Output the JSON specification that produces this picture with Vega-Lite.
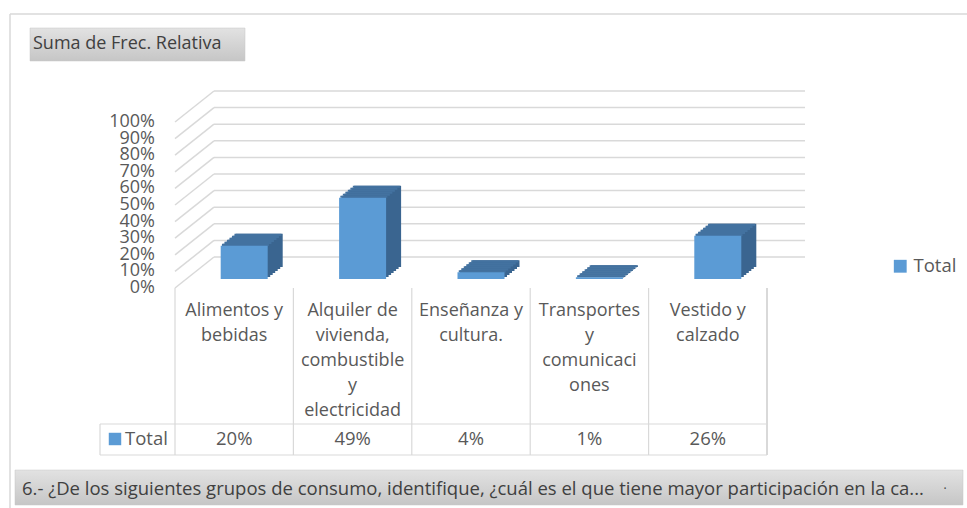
{
  "$schema": "https://vega.github.io/schema/vega-lite/v6.json",
  "width": 592,
  "height": 166,
  "autosize": {"type": "none"},
  "padding": {"left": 175, "top": 122, "right": 200, "bottom": 220},
  "background": "white",
  "config": {
    "view": {"stroke": null},
    "font": "Open Sans",
    "axis": {"disable": true}
  },
  "datasets": {
    "consumo": [
      {"grupo": "Alimentos y bebidas", "etiqueta": "Alimentos y\nbebidas", "frec": 0.20},
      {"grupo": "Alquiler de vivienda, combustible y electricidad", "etiqueta": "Alquiler de\nvivienda,\ncombustible\ny\nelectricidad", "frec": 0.49},
      {"grupo": "Enseñanza y cultura.", "etiqueta": "Enseñanza y\ncultura.", "frec": 0.04},
      {"grupo": "Transportes y comunicaciones", "etiqueta": "Transportes\ny\ncomunicaci\nones", "frec": 0.01},
      {"grupo": "Vestido y calzado", "etiqueta": "Vestido y\ncalzado", "frec": 0.26}
    ],
    "niveles": [
      {"nivel": 0}, {"nivel": 0.1}, {"nivel": 0.2}, {"nivel": 0.3}, {"nivel": 0.4}, {"nivel": 0.5},
      {"nivel": 0.6}, {"nivel": 0.7}, {"nivel": 0.8}, {"nivel": 0.9}, {"nivel": 1}
    ]
  },
  "layer": [
    {
      "data": {"values": [{}]},
      "layer": [
        {
          "mark": {"type": "rule", "color": "#d9d9d9", "strokeWidth": 1.5},
          "encoding": {
            "x": {"datum": -1.3936, "type": "quantitative", "scale": {"domain": [0, 5], "nice": false, "zero": false}},
            "x2": {"datum": 6.6909},
            "y": {"datum": 1.6506, "type": "quantitative"}
          }
        },
        {
          "mark": {"type": "rule", "color": "#d9d9d9", "strokeWidth": 1.5},
          "encoding": {
            "x": {"datum": -1.3936, "type": "quantitative"},
            "y": {"datum": 1.6506, "type": "quantitative"},
            "y2": {"datum": -1.3253}
          }
        },
        {
          "data": {"name": "niveles"},
          "mark": {"type": "rule", "color": "#d9d9d9", "strokeWidth": 1.5, "xOffset": 39, "x2Offset": 38, "yOffset": -31},
          "encoding": {
            "x": {"datum": 0, "type": "quantitative"},
            "x2": {"datum": 5},
            "y": {"field": "nivel", "type": "quantitative"}
          }
        },
        {
          "data": {"name": "niveles"},
          "mark": {"type": "rule", "color": "#d9d9d9", "strokeWidth": 1.5, "x2Offset": 39, "y2Offset": -31},
          "encoding": {
            "x": {"datum": 0, "type": "quantitative"},
            "x2": {"datum": 0},
            "y": {"field": "nivel", "type": "quantitative"},
            "y2": {"field": "nivel"}
          }
        },
        {
          "data": {"name": "niveles"},
          "mark": {"type": "text", "align": "right", "baseline": "middle", "fontSize": 18, "color": "#595959", "xOffset": -20},
          "encoding": {
            "x": {"datum": 0, "type": "quantitative"},
            "y": {"field": "nivel", "type": "quantitative"},
            "text": {"field": "nivel", "type": "quantitative", "format": ".0%"}
          }
        },
        {
          "mark": {"type": "rule", "color": "#d9d9d9", "strokeWidth": 1.2},
          "encoding": {
            "x": {"datum": -0.6334, "type": "quantitative"},
            "x2": {"datum": 5},
            "y": {"datum": -0.8193, "type": "quantitative"}
          }
        },
        {
          "mark": {"type": "rule", "color": "#d9d9d9", "strokeWidth": 1.2},
          "encoding": {
            "x": {"datum": -0.6334, "type": "quantitative"},
            "x2": {"datum": 5},
            "y": {"datum": -1.006, "type": "quantitative"}
          }
        },
        {
          "mark": {"type": "rule", "color": "#d9d9d9", "strokeWidth": 1.2},
          "encoding": {
            "x": {"datum": -0.6334, "type": "quantitative"},
            "y": {"datum": -0.8193, "type": "quantitative"},
            "y2": {"datum": -1.006}
          }
        },
        {
          "mark": {"type": "point", "shape": "square", "filled": true, "color": "#5b9bd5", "size": 155, "opacity": 1},
          "encoding": {
            "x": {"datum": -0.5068, "type": "quantitative"},
            "y": {"datum": -0.9096, "type": "quantitative"}
          }
        },
        {
          "mark": {"type": "text", "text": "Total", "align": "left", "baseline": "middle", "fontSize": 18.5, "color": "#595959"},
          "encoding": {
            "x": {"datum": -0.4223, "type": "quantitative"},
            "y": {"datum": -0.9096, "type": "quantitative"}
          }
        },
        {
          "mark": {
            "type": "rect",
            "stroke": "#c8c8c8",
            "strokeWidth": 0.5,
            "fill": {"gradient": "linear", "x1": 0, "y1": 0, "x2": 0, "y2": 1, "stops": [{"offset": 0, "color": "#e2e2e2"}, {"offset": 1, "color": "#c6c6c6"}]}
          },
          "encoding": {
            "x": {"datum": -1.2247, "type": "quantitative"},
            "x2": {"datum": 0.5912},
            "y": {"datum": 1.5663, "type": "quantitative"},
            "y2": {"datum": 1.3675}
          }
        },
        {
          "mark": {"type": "text", "text": "Suma de Frec. Relativa", "align": "left", "baseline": "middle", "fontSize": 18, "color": "#404040"},
          "encoding": {
            "x": {"datum": -1.1993, "type": "quantitative"},
            "y": {"datum": 1.4669, "type": "quantitative"}
          }
        },
        {
          "mark": {
            "type": "rect",
            "stroke": "#c8c8c8",
            "strokeWidth": 0.5,
            "fill": {"gradient": "linear", "x1": 0, "y1": 0, "x2": 0, "y2": 1, "stops": [{"offset": 0, "color": "#e2e2e2"}, {"offset": 1, "color": "#c6c6c6"}]}
          },
          "encoding": {
            "x": {"datum": -1.3514, "type": "quantitative"},
            "x2": {"datum": 6.6554},
            "y": {"datum": -1.0964, "type": "quantitative"},
            "y2": {"datum": -1.3072}
          }
        },
        {
          "mark": {"type": "text", "text": "6.- ¿De los siguientes grupos de consumo, identifique, ¿cuál es el que tiene mayor participación en la ca...", "align": "left", "baseline": "middle", "fontSize": 18.5, "color": "#404040"},
          "encoding": {
            "x": {"datum": -1.2922, "type": "quantitative"},
            "y": {"datum": -1.2108, "type": "quantitative"}
          }
        },
        {
          "mark": {"type": "text", "text": "·", "align": "center", "baseline": "middle", "fontSize": 12, "color": "#404040"},
          "encoding": {
            "x": {"datum": 6.5034, "type": "quantitative"},
            "y": {"datum": -1.2108, "type": "quantitative"}
          }
        }
      ]
    },
    {
      "data": {"name": "consumo"},
      "encoding": {
        "x": {"field": "grupo", "type": "nominal", "sort": null, "scale": {"paddingInner": 0, "paddingOuter": 0}}
      },
      "layer": [
        {
          "mark": {"type": "rule", "color": "#d9d9d9", "strokeWidth": 1.2},
          "encoding": {
            "x": {"field": "grupo", "type": "nominal", "sort": null, "bandPosition": 0},
            "y": {"datum": 0, "type": "quantitative"},
            "y2": {"datum": -1.006}
          }
        },
        {
          "mark": {"type": "rule", "color": "#d9d9d9", "strokeWidth": 1.2},
          "encoding": {
            "x": {"datum": "Vestido y calzado", "type": "nominal", "bandPosition": 1},
            "y": {"datum": 0, "type": "quantitative"},
            "y2": {"datum": -1.006}
          }
        },
        {"mark": {"type": "bar", "color": "#3a6590", "width": {"band": 0.397}, "xOffset": 12.5, "yOffset": -11, "y2Offset": -11}, "encoding": {"y": {"field": "frec", "type": "quantitative"}, "y2": {"datum": 0}}},
        {"mark": {"type": "bar", "color": "#3a6590", "width": {"band": 0.397}, "xOffset": 15, "yOffset": -13, "y2Offset": -13}, "encoding": {"y": {"field": "frec", "type": "quantitative"}, "y2": {"datum": 0}}},
        {"mark": {"type": "bar", "color": "#3a6590", "width": {"band": 0.397}, "xOffset": 17.5, "yOffset": -15, "y2Offset": -15}, "encoding": {"y": {"field": "frec", "type": "quantitative"}, "y2": {"datum": 0}}},
        {"mark": {"type": "bar", "color": "#3a6590", "width": {"band": 0.397}, "xOffset": 20, "yOffset": -17, "y2Offset": -17}, "encoding": {"y": {"field": "frec", "type": "quantitative"}, "y2": {"datum": 0}}},
        {"mark": {"type": "bar", "color": "#3a6590", "width": {"band": 0.397}, "xOffset": 22.5, "yOffset": -19, "y2Offset": -19}, "encoding": {"y": {"field": "frec", "type": "quantitative"}, "y2": {"datum": 0}}},
        {"mark": {"type": "bar", "color": "#3a6590", "width": {"band": 0.397}, "xOffset": 25, "yOffset": -21, "y2Offset": -21}, "encoding": {"y": {"field": "frec", "type": "quantitative"}, "y2": {"datum": 0}}},
        {"mark": {"type": "bar", "color": "#4372a0", "width": {"band": 0.397}, "xOffset": 11.25, "yOffset": -11, "y2Offset": -8.8}, "encoding": {"y": {"field": "frec", "type": "quantitative"}, "y2": {"field": "frec"}}},
        {"mark": {"type": "bar", "color": "#4372a0", "width": {"band": 0.397}, "xOffset": 13.75, "yOffset": -13, "y2Offset": -10.8}, "encoding": {"y": {"field": "frec", "type": "quantitative"}, "y2": {"field": "frec"}}},
        {"mark": {"type": "bar", "color": "#4372a0", "width": {"band": 0.397}, "xOffset": 16.25, "yOffset": -15, "y2Offset": -12.8}, "encoding": {"y": {"field": "frec", "type": "quantitative"}, "y2": {"field": "frec"}}},
        {"mark": {"type": "bar", "color": "#4372a0", "width": {"band": 0.397}, "xOffset": 18.75, "yOffset": -17, "y2Offset": -14.8}, "encoding": {"y": {"field": "frec", "type": "quantitative"}, "y2": {"field": "frec"}}},
        {"mark": {"type": "bar", "color": "#4372a0", "width": {"band": 0.397}, "xOffset": 21.25, "yOffset": -19, "y2Offset": -16.8}, "encoding": {"y": {"field": "frec", "type": "quantitative"}, "y2": {"field": "frec"}}},
        {"mark": {"type": "bar", "color": "#4372a0", "width": {"band": 0.397}, "xOffset": 23.75, "yOffset": -21, "y2Offset": -18.8}, "encoding": {"y": {"field": "frec", "type": "quantitative"}, "y2": {"field": "frec"}}},
        {
          "mark": {"type": "bar", "width": {"band": 0.397}, "xOffset": 10, "yOffset": -9, "y2Offset": -9},
          "encoding": {
            "y": {
              "field": "frec",
              "type": "quantitative",
              "scale": {"domain": [0, 1], "nice": false, "zero": true}
            },
            "y2": {"datum": 0},
            "color": {
              "datum": "Total",
              "type": "nominal",
              "scale": {"range": ["#5b9bd5"]},
              "legend": {
                "orient": "none",
                "legendX": 716,
                "legendY": 135,
                "title": null,
                "padding": 0,
                "symbolType": "square",
                "symbolSize": 165,
                "symbolStrokeWidth": 0,
                "labelFontSize": 18.5,
                "labelColor": "#595959",
                "labelFont": "Open Sans"
              }
            }
          }
        },
        {
          "mark": {"type": "text", "baseline": "top", "align": "center", "fontSize": 18, "lineHeight": 25, "lineBreak": "\n", "color": "#595959"},
          "encoding": {
            "y": {"datum": -0.085, "type": "quantitative"},
            "text": {"field": "etiqueta", "type": "nominal"}
          }
        },
        {
          "mark": {"type": "text", "baseline": "middle", "align": "center", "fontSize": 18.5, "color": "#595959"},
          "encoding": {
            "y": {"datum": -0.9096, "type": "quantitative"},
            "text": {"field": "frec", "type": "quantitative", "format": ".0%"}
          }
        }
      ]
    }
  ],
  "resolve": {"scale": {"x": "independent"}}
}
